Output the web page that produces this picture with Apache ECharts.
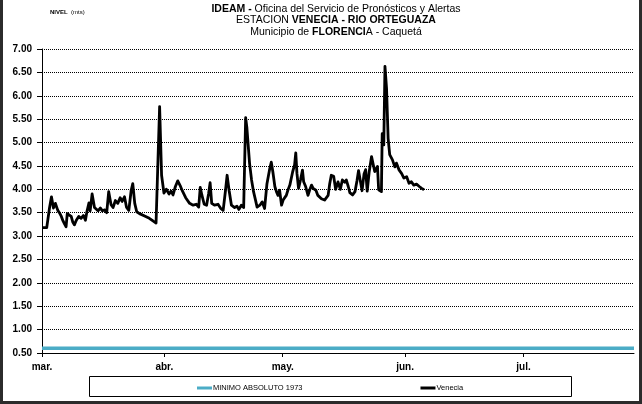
<!DOCTYPE html>
<html>
<head>
<meta charset="utf-8">
<script src="https://cdn.jsdelivr.net/npm/echarts@6/dist/echarts.min.js"></script>
<style>
  html, body { margin: 0; padding: 0; background: #fff; }
  #frame { position: relative; width: 642px; height: 404px; box-sizing: border-box;
           border-left: 3px solid #2b2b2b; border-right: 3px solid #2b2b2b; border-bottom: 3px solid #2b2b2b; }
  #chart { position: absolute; left: -3px; top: 0; width: 642px; height: 404px; }
</style>
</head>
<body>
<div id="frame"><div id="chart"></div></div>
<script>
// Month axis: labels and the day (counted from 1 March) where each month starts
const monthLabels = ['mar.', 'abr.', 'may.', 'jun.', 'jul.'];
const monthStartDays = [0, 31, 61, 92, 122];

// Venecia station readings: day offset from 1 March and river level (m)
const dayOffsets = [
  0, 1.2, 1.9, 2.4, 2.9, 3.4, 4.0, 4.4, 4.9, 5.3, 5.7, 6.1, 6.4, 6.8, 7.4, 7.8, 8.2, 8.7, 9.3, 9.9,
  10.5, 11.0, 11.4, 11.9, 12.2, 12.7, 13.3, 14.2, 14.8, 15.3, 15.9, 16.4, 16.9, 17.5, 18.0, 18.6, 19.2, 19.8,
  20.3, 20.9, 21.4, 22.0, 22.6, 23.0, 23.5, 24.0, 24.7, 26.0, 27.2, 28.2, 28.9, 29.4, 29.8,
  30.3, 30.9, 31.5, 32.2, 32.7, 33.2, 33.8, 34.4, 35.0, 35.6, 36.4, 37.4, 38.3, 39.1, 39.7,
  40.1, 40.5, 41.1, 41.7, 42.2, 42.6, 43.0, 43.7, 44.6, 45.3, 45.9, 46.5, 46.9, 47.4, 48.0, 48.8, 49.4, 49.9,
  50.5, 51.1, 51.6, 51.9, 52.6, 53.1, 53.6, 54.1, 54.5, 55.2, 55.8, 56.4, 57.0, 57.7, 58.1, 58.5, 59.0, 59.4, 59.8,
  60.2, 60.7, 61.1, 61.9, 62.3, 62.8, 63.5, 64.0, 64.3, 64.6, 65.0, 65.5, 66.0, 66.3, 66.8, 67.4, 67.8, 68.3, 68.7, 69.4, 69.9,
  70.8, 71.6, 72.5, 72.9, 73.3, 73.9, 74.4, 75.0, 75.6, 76.1, 76.7, 77.1, 77.6, 78.0, 78.7, 79.3, 79.8,
  80.2, 80.7, 81.1, 81.6, 82.0, 82.4, 82.9, 83.5, 83.9, 84.3, 84.7, 85.0, 85.3, 86.0, 86.2, 86.6, 86.9, 87.3, 87.7,
  88.1, 88.8, 89.4, 89.8, 90.5, 91.1, 91.7, 92.4, 93.0, 93.6, 94.2, 94.9, 95.6, 96.2, 96.8
];
const levels = [
  3.18, 3.18, 3.60, 3.84, 3.60, 3.70, 3.55, 3.50, 3.42, 3.33, 3.26, 3.20, 3.48, 3.52, 3.42, 3.30, 3.24, 3.34, 3.42, 3.38,
  3.44, 3.34, 3.53, 3.71, 3.54, 3.90, 3.61, 3.54, 3.60, 3.54, 3.56, 3.50, 3.95, 3.67, 3.61, 3.76, 3.70, 3.82,
  3.74, 3.84, 3.62, 3.55, 3.98, 4.12, 3.70, 3.52, 3.48, 3.43, 3.38, 3.32, 3.28, 3.30, 5.77,
  4.30, 3.92, 4.00, 3.90, 3.96, 3.88, 4.06, 4.18, 4.08, 3.96, 3.82, 3.70, 3.66, 3.68, 3.62,
  4.04, 3.88, 3.68, 3.66, 3.90, 4.14, 3.70, 3.66, 3.68, 3.59, 3.55, 3.98, 4.30, 3.98, 3.66, 3.61, 3.64, 3.57,
  3.66, 3.61, 5.53, 5.33, 4.55, 4.20, 3.95, 3.77, 3.62, 3.66, 3.73, 3.59, 4.12, 4.44, 4.58, 4.37, 4.06, 3.95, 3.87,
  3.98, 3.66, 3.77, 3.87, 3.98, 4.09, 4.37, 4.52, 4.78, 4.34, 4.02, 4.20, 4.41, 4.16, 4.06, 3.87, 3.98, 4.09, 4.02, 3.98, 3.87,
  3.80, 3.77, 3.87, 4.12, 4.30, 4.28, 4.00, 4.16, 4.00, 4.20, 4.15, 4.20, 4.06, 3.93, 3.88, 3.95, 4.18,
  4.40, 4.16, 3.97, 4.33, 4.42, 3.96, 4.37, 4.70, 4.66, 4.38, 4.34, 4.49, 3.99, 3.95, 5.19, 4.95, 6.63, 6.16, 5.09,
  4.74, 4.63, 4.48, 4.56, 4.41, 4.34, 4.24, 4.27, 4.13, 4.16, 4.09, 4.11, 4.06, 4.02, 3.99
];

// Historic absolute minimum level (1973), drawn across the whole period
const minimoDays = [0, 150];
const minimoLevel = 0.60;

const sans = '"Liberation Sans", Arial, sans-serif';

const chart = echarts.init(document.getElementById('chart'), null, { renderer: 'canvas' });

chart.setOption({
  animation: false,
  backgroundColor: 'transparent',
  title: {
    left: 331,
    top: -2,
    textAlign: 'center',
    text: '{b|IDEAM -}{n| Oficina del Servicio de Pronósticos y Alertas}\n' +
          '{n|ESTACION }{b|VENECIA - RIO ORTEGUAZA}\n' +
          '{n|Municipio de }{b|FLORENCI}{n|A - Caquetá}',
    textStyle: {
      fontWeight: 'normal',
      lineHeight: 11.5,
      rich: {
        b: { fontFamily: sans, fontSize: 10.5, fontWeight: 'bold', color: '#000', lineHeight: 11.5 },
        n: { fontFamily: sans, fontSize: 10.5, fontWeight: 'normal', color: '#000', lineHeight: 11.5 }
      }
    }
  },
  graphic: [
    {
      type: 'text', left: 50, top: 6,
      style: {
        text: '{b|NIVEL} {n|(mts)}',
        rich: {
          b: { fontFamily: sans, fontSize: 6, fontWeight: 'bold', fill: '#000' },
          n: { fontFamily: sans, fontSize: 6, fontWeight: 'normal', fill: '#000' }
        }
      }
    },
    {
      type: 'rect', left: 87, top: 374,
      shape: { width: 482, height: 20 },
      style: { fill: 'none', stroke: '#000', lineWidth: 1 }
    }
  ],
  legend: {
    left: 192,
    top: 379,
    itemGap: 118,
    itemWidth: 15,
    itemHeight: 3,
    icon: 'rect',
    textStyle: { fontFamily: sans, fontSize: 7.5, color: '#000', padding: [0, 0, 0, -4] },
    data: ['MINIMO ABSOLUTO 1973', 'Venecia']
  },
  grid: { left: 42, right: 8, top: 49, bottom: 51, containLabel: false },
  xAxis: {
    type: 'value',
    min: 0,
    max: 150,
    axisLine: { show: true, lineStyle: { color: '#000', width: 1 } },
    axisTick: { show: true, customValues: monthStartDays, length: 4, lineStyle: { color: '#000' } },
    axisLabel: {
      customValues: monthStartDays,
      formatter: v => monthLabels[monthStartDays.indexOf(v)] || '',
      fontFamily: sans, fontSize: 10, fontWeight: 'bold', color: '#000', margin: 9
    },
    splitLine: { show: false }
  },
  yAxis: {
    type: 'value',
    min: 0.5,
    max: 7,
    interval: 0.5,
    axisLine: { show: true, lineStyle: { color: '#000', width: 1 } },
    axisTick: { show: true, length: 5, lineStyle: { color: '#000' } },
    axisLabel: {
      formatter: v => v.toFixed(2),
      fontFamily: sans, fontSize: 10, fontWeight: 'bold', color: '#000', margin: 10
    },
    splitLine: { show: true, lineStyle: { color: '#000', type: [1, 1], width: 1 } }
  },
  series: [
    {
      name: 'MINIMO ABSOLUTO 1973',
      type: 'line',
      showSymbol: false,
      itemStyle: { color: '#4bacc6' },
      lineStyle: { color: '#4bacc6', width: 3.5 },
      data: minimoDays.map(d => [d, minimoLevel])
    },
    {
      name: 'Venecia',
      type: 'line',
      showSymbol: false,
      itemStyle: { color: '#000' },
      lineStyle: { color: '#000', width: 2.8, join: 'round' },
      data: dayOffsets.map((d, i) => [d, levels[i]])
    }
  ]
});
</script>
</body>
</html>
